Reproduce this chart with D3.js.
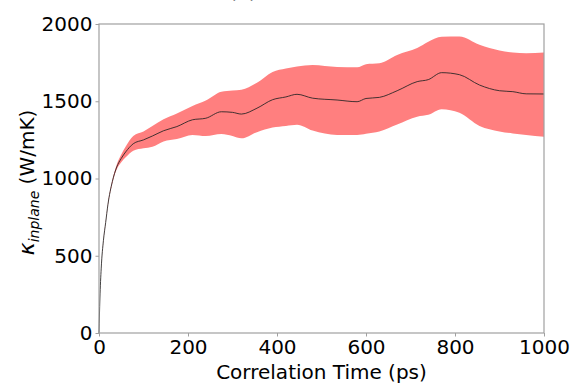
<!DOCTYPE html>
<html>
<head>
<meta charset="utf-8">
<script src="https://cdn.jsdelivr.net/npm/d3@7"></script>
<style>
  body { margin: 0; background: #fff; }
  text { font-family: "DejaVu Sans", sans-serif; }
</style>
</head>
<body>
<div id="chart-area"></div>
<script>
// correlation time (ps) and kappa values
var times = [0, 2, 5, 10, 15, 20, 30, 40, 50, 60, 77, 100, 120, 145, 175, 210, 240, 275, 300, 320, 355, 390, 420, 445, 480, 535, 580, 600, 630, 670, 715, 740, 770, 810, 855, 900, 930, 960, 1000];
var meanK = [0, 220, 420, 600, 715, 830, 980, 1075, 1130, 1172, 1225, 1250, 1275, 1309, 1336, 1380, 1390, 1432, 1428, 1417, 1455, 1510, 1528, 1545, 1520, 1508, 1497, 1518, 1525, 1568, 1627, 1640, 1685, 1672, 1605, 1568, 1562, 1548, 1547];
var upperK = [0, 222, 423, 604, 720, 837, 990, 1090, 1155, 1207, 1275, 1305, 1340, 1383, 1420, 1470, 1505, 1562, 1570, 1575, 1620, 1690, 1712, 1725, 1735, 1722, 1720, 1740, 1746, 1800, 1844, 1885, 1917, 1919, 1865, 1828, 1815, 1810, 1815];
var lowerK = [0, 218, 417, 596, 710, 823, 970, 1060, 1105, 1137, 1180, 1195, 1205, 1240, 1255, 1282, 1275, 1288, 1275, 1260, 1300, 1330, 1340, 1348, 1310, 1282, 1282, 1290, 1305, 1350, 1400, 1412, 1448, 1425, 1340, 1305, 1292, 1282, 1271];

var xTicks = [0, 200, 400, 600, 800, 1000];
var yTicks = [0, 500, 1000, 1500, 2000];

var width = 573, height = 383;
var margin = {top: 24, right: 29, bottom: 50, left: 99};
var w = width - margin.left - margin.right;
var h = height - margin.top - margin.bottom;

var svg = d3.select("#chart-area").append("svg")
    .attr("width", width)
    .attr("height", height);

var g = svg.append("g")
    .attr("transform", "translate(" + margin.left + "," + margin.top + ")");

var x = d3.scaleLinear().domain([0, 1000]).range([0, w]);
var y = d3.scaleLinear().domain([0, 2000]).range([h, 0]);

var data = times.map(function(t, i) {
    return {t: t, m: meanK[i], hi: upperK[i], lo: lowerK[i]};
});

// shaded band
var area = d3.area()
    .x(function(d) { return x(d.t); })
    .y0(function(d) { return y(d.lo); })
    .y1(function(d) { return y(d.hi); })
    .curve(d3.curveMonotoneX);

g.append("path")
    .datum(data)
    .attr("d", area)
    .attr("fill", "#ff7f7f");

var line = d3.line()
    .x(function(d) { return x(d.t); })
    .y(function(d) { return y(d.m); })
    .curve(d3.curveMonotoneX);

g.append("path")
    .datum(data)
    .attr("d", line)
    .attr("fill", "none")
    .attr("stroke", "#222")
    .attr("stroke-opacity", 0.85)
    .attr("stroke-width", 1);

// frame
g.append("rect")
    .attr("x", 0).attr("y", 0)
    .attr("width", w).attr("height", h)
    .attr("fill", "none")
    .attr("stroke", "#a0a0a0")
    .attr("stroke-width", 1.2);

var xAxis = g.append("g")
    .attr("transform", "translate(0," + h + ")")
    .call(d3.axisBottom(x).tickValues(xTicks).tickSize(3.5).tickPadding(3).tickFormat(d3.format("d")));

var yAxis = g.append("g")
    .call(d3.axisLeft(y).tickValues(yTicks).tickSize(3.5).tickPadding(3).tickFormat(d3.format("d")));

[xAxis, yAxis].forEach(function(a) {
    a.select(".domain").remove();
    a.selectAll("line").attr("stroke", "#a0a0a0");
    a.selectAll("text")
        .attr("fill", "#000")
        .attr("font-size", "20px")
        .attr("font-family", "DejaVu Sans, sans-serif");
});

// axis labels
svg.append("text")
    .attr("x", margin.left + w / 2)
    .attr("y", 379)
    .attr("text-anchor", "middle")
    .attr("font-size", "20px")
    .text("Correlation Time (ps)");

var yl = svg.append("text")
    .attr("transform", "translate(34," + (margin.top + h / 2 + 4) + ") rotate(-90)")
    .attr("text-anchor", "middle")
    .attr("font-size", "20px");
yl.append("tspan").attr("font-style", "italic").attr("font-size", "22px").text("κ");
yl.append("tspan").attr("font-style", "italic").attr("font-size", "14px")
    .attr("dy", 5).text("inplane");
yl.append("tspan").attr("dy", -5).text(" (W/mK)");

// title, mostly cut off at the top of the picture
svg.append("text")
    .attr("x", 243)
    .attr("y", -2)
    .attr("text-anchor", "middle")
    .attr("font-size", "20px")
    .text("(a)");
</script>
</body>
</html>
